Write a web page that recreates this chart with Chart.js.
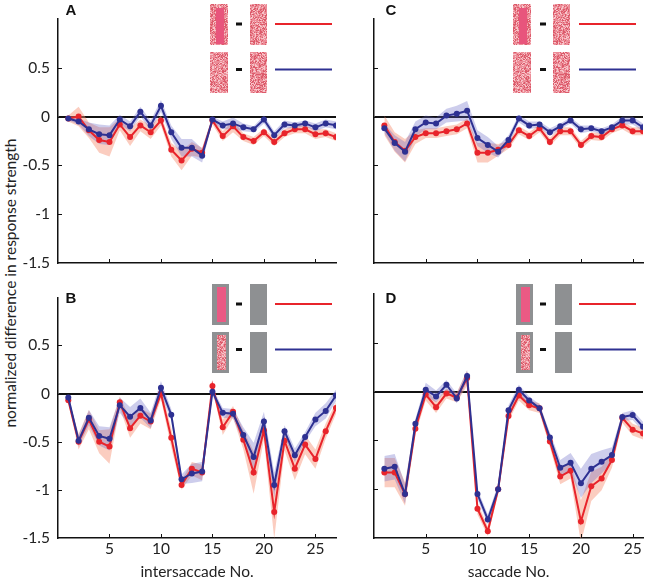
<!DOCTYPE html>
<html>
<head>
<meta charset="utf-8">
<script src="https://cdn.jsdelivr.net/npm/chart.js@4.4.0/dist/chart.umd.min.js"></script>
<style>
  body { margin: 0; background: #fff; width: 649px; height: 581px; position: relative; overflow: hidden; font-family: Lato, sans-serif; }
  .panel { position: absolute; }
  #ytitle { position: absolute; left: 10px; top: 283px; transform: translate(-50%, -50%) rotate(-90deg); white-space: nowrap; font-size: 15.5px; color: #222; }
</style>
</head>
<body>
<div id="ytitle">normalized difference in response strength</div>
<div class="panel" style="left:0;top:0;width:340px;height:290px"><canvas id="chartA"></canvas></div>
<div class="panel" style="left:340px;top:0;width:309px;height:290px"><canvas id="chartC"></canvas></div>
<div class="panel" style="left:0;top:280px;width:340px;height:301px"><canvas id="chartB"></canvas></div>
<div class="panel" style="left:340px;top:280px;width:309px;height:301px"><canvas id="chartD"></canvas></div>
<script>
// x positions
const intersaccadeNo = [1,2,3,4,5,6,7,8,9,10,11,12,13,14,15,16,17,18,19,20,21,22,23,24,25,26,27];
const saccadeNo = [1,2,3,4,5,6,7,8,9,10,11,12,13,14,15,16,17,18,19,20,21,22,23,24,25,26];
const xTicks = [5, 10, 15, 20, 25];

// panel A
const redA  = [-0.02,0.00,-0.14,-0.24,-0.26,-0.08,-0.21,-0.09,-0.16,-0.04,-0.34,-0.45,-0.33,-0.37,-0.04,-0.20,-0.10,-0.21,-0.25,-0.16,-0.26,-0.17,-0.13,-0.13,-0.18,-0.17,-0.21];
const redAErr = [0.03,0.10,0.08,0.13,0.15,0.06,0.09,0.06,0.07,0.05,0.07,0.10,0.07,0.05,0.04,0.05,0.06,0.04,0.04,0.04,0.04,0.04,0.04,0.04,0.05,0.04,0.04];
const blueA = [-0.02,-0.05,-0.13,-0.18,-0.19,-0.03,-0.10,0.05,-0.09,0.11,-0.16,-0.32,-0.32,-0.40,-0.03,-0.09,-0.07,-0.11,-0.13,-0.03,-0.19,-0.08,-0.09,-0.07,-0.11,-0.07,-0.09];
const blueAErr = [0.02,0.03,0.07,0.10,0.10,0.05,0.05,0.05,0.05,0.06,0.07,0.09,0.09,0.07,0.03,0.04,0.06,0.04,0.03,0.04,0.04,0.04,0.03,0.03,0.04,0.04,0.04];

// panel B
const redB  = [-0.07,-0.50,-0.27,-0.50,-0.55,-0.09,-0.36,-0.23,-0.29,0.00,-0.46,-0.95,-0.78,-0.82,0.08,-0.35,-0.19,-0.48,-0.82,-0.38,-1.23,-0.49,-0.78,-0.53,-0.68,-0.39,-0.15];
const redBErr = [0.03,0.08,0.10,0.12,0.18,0.06,0.10,0.08,0.08,0.06,0.10,0.05,0.07,0.08,0.04,0.08,0.06,0.10,0.22,0.10,0.28,0.10,0.12,0.10,0.10,0.08,0.06];
const blueB = [-0.04,-0.49,-0.25,-0.44,-0.47,-0.12,-0.24,-0.15,-0.28,0.06,-0.22,-0.89,-0.83,-0.81,0.02,-0.20,-0.21,-0.43,-0.66,-0.29,-0.95,-0.39,-0.64,-0.45,-0.27,-0.18,-0.02];
const blueBErr = [0.02,0.06,0.08,0.10,0.12,0.08,0.10,0.10,0.08,0.07,0.06,0.05,0.10,0.10,0.04,0.05,0.05,0.08,0.15,0.10,0.13,0.06,0.07,0.05,0.07,0.08,0.06];

// panel C
const redC  = [-0.09,-0.26,-0.35,-0.21,-0.17,-0.17,-0.15,-0.13,-0.07,-0.37,-0.37,-0.34,-0.29,-0.14,-0.20,-0.12,-0.26,-0.15,-0.15,-0.29,-0.20,-0.21,-0.13,-0.09,-0.15,-0.15];
const redCErr = [0.10,0.10,0.12,0.07,0.05,0.05,0.05,0.05,0.05,0.10,0.10,0.06,0.04,0.04,0.04,0.04,0.04,0.04,0.04,0.04,0.04,0.04,0.04,0.04,0.04,0.04];
const blueC = [-0.12,-0.27,-0.36,-0.13,-0.06,-0.07,0.01,0.03,0.06,-0.22,-0.29,-0.36,-0.24,-0.02,-0.09,-0.08,-0.16,-0.10,-0.04,-0.13,-0.12,-0.15,-0.11,-0.04,-0.04,-0.11];
const blueCErr = [0.05,0.08,0.10,0.08,0.07,0.06,0.07,0.08,0.10,0.08,0.08,0.06,0.05,0.04,0.04,0.03,0.04,0.03,0.03,0.04,0.03,0.03,0.03,0.04,0.04,0.04];

// panel D
const redD  = [-0.83,-0.83,-1.05,-0.38,-0.03,-0.16,-0.02,-0.06,0.14,-1.20,-1.43,-1.00,-0.25,-0.04,-0.14,-0.17,-0.51,-0.87,-0.81,-1.33,-0.97,-0.89,-0.70,-0.27,-0.39,-0.43];
const redDErr = [0.15,0.15,0.12,0.06,0.06,0.06,0.05,0.05,0.08,0.06,0.05,0.05,0.05,0.05,0.05,0.05,0.06,0.08,0.08,0.22,0.15,0.12,0.08,0.05,0.06,0.06];
const blueD = [-0.79,-0.77,-1.05,-0.33,0.02,-0.05,0.07,-0.07,0.16,-1.05,-1.31,-1.00,-0.19,0.02,-0.09,-0.17,-0.47,-0.78,-0.73,-0.94,-0.79,-0.72,-0.65,-0.26,-0.24,-0.36];
const blueDErr = [0.13,0.13,0.10,0.05,0.07,0.06,0.05,0.05,0.06,0.05,0.05,0.05,0.05,0.05,0.04,0.04,0.05,0.08,0.10,0.15,0.15,0.12,0.08,0.04,0.05,0.05];

const RED = '#e8242b';
const BLUE = '#2e3192';
const FONT = { family: 'Lato, sans-serif', size: 15.5 };

function noiseVal(i, j, seed) {
  const s = Math.sin(i * 12.9898 + j * 78.233 + seed * 37.719) * 43758.5453;
  return s - Math.floor(s);
}

// pink speckle texture for the stimulus thumbnails
function drawNoise(ctx, x, y, w, h, seed) {
  ctx.fillStyle = '#ee96a0';
  ctx.fillRect(x, y, w, h);
  for (let i = 0; i < w; i++) {
    for (let j = 0; j < h; j++) {
      const v = noiseVal(i, j, seed);
      if (v < 0.22) ctx.fillStyle = '#f7c4c9';
      else if (v < 0.72) ctx.fillStyle = '#ec8d98';
      else ctx.fillStyle = '#dc5b6b';
      ctx.fillRect(x + i, y + j, 1, 1);
    }
  }
}

// inset legend pictures
function drawInset(ctx, p) {
  const rows = [p.rowY, p.rowY + 48];
  const lineY = [p.rowY + 20, p.rowY + 65.5];
  rows.forEach((ry, r) => {
    const h = 41;
    if (p.kind === 'noise') {
      drawNoise(ctx, p.img1, ry, 18, h, r * 2 + 1);
      if (r === 0) {
        ctx.fillStyle = '#e8557c';
        ctx.fillRect(p.img1 + 6, ry + 4, 8, h - 5);
      }
      drawNoise(ctx, p.img2, ry, 17, h, r * 2 + 2);
    } else {
      ctx.fillStyle = '#8e9092';
      ctx.fillRect(p.img1, ry, 17, h);
      ctx.fillRect(p.img2, ry, 17, h);
      if (r === 0) {
        ctx.fillStyle = '#ea5a84';
        ctx.fillRect(p.img1 + 5, ry + 3, 9, h - 6);
      } else {
        drawNoise(ctx, p.img1 + 5, ry + 3, 9, h - 6, 7);
      }
    }
    ctx.fillStyle = '#111';
    ctx.fillRect(p.dash, lineY[r] - 1.5, 6, 3);
    ctx.strokeStyle = r === 0 ? RED : BLUE;
    ctx.lineWidth = 2;
    ctx.beginPath();
    ctx.moveTo(p.lineX0, lineY[r]);
    ctx.lineTo(p.lineX1, lineY[r]);
    ctx.stroke();
  });
}

const decoPlugin = {
  id: 'deco',
  afterDatasetsDraw(chart) {
    const ctx = chart.ctx;
    const a = chart.chartArea;
    const ys = chart.scales.y;
    const xs = chart.scales.x;
    ctx.save();
    ctx.strokeStyle = '#111';
    ctx.lineWidth = 1;
    [0.5, 0, -0.5, -1].forEach(v => {
      const py = Math.round(ys.getPixelForValue(v)) + 0.5;
      ctx.beginPath();
      ctx.moveTo(a.left, py);
      ctx.lineTo(a.left + 4, py);
      ctx.stroke();
    });
    xTicks.forEach(v => {
      const px = Math.round(xs.getPixelForValue(v)) + 0.5;
      ctx.beginPath();
      ctx.moveTo(px, a.bottom);
      ctx.lineTo(px, a.bottom - 4);
      ctx.stroke();
    });
    ctx.restore();
  },
  afterDraw(chart) {
    const p = chart.options.plugins.deco;
    const ctx = chart.ctx;
    ctx.save();
    ctx.translate(-p.L, -p.T);
    drawInset(ctx, p.inset);
    ctx.fillStyle = '#111';
    ctx.font = 'bold 15px "Liberation Sans", Arial, sans-serif';
    ctx.textAlign = 'center';
    ctx.textBaseline = 'middle';
    ctx.fillText(p.letter, p.letterX, p.letterY);
    ctx.restore();
  }
};

function makePanel(id, xs, red, redErr, blue, blueErr, p) {
  const pts = (ys) => ys.map((v, i) => ({ x: xs[i], y: v }));
  const band = (ys, es, sign) => ys.map((v, i) => ({ x: xs[i], y: v + sign * es[i] }));
  const bandStyle = { borderWidth: 0, pointRadius: 0, pointHoverRadius: 0 };
  new Chart(document.getElementById(id), {
    type: 'line',
    data: {
      datasets: [
        { data: band(red, redErr, 1), fill: '+1', backgroundColor: 'rgba(246,145,115,0.45)', order: 3, ...bandStyle },
        { data: band(red, redErr, -1), fill: false, order: 3, ...bandStyle },
        { data: band(blue, blueErr, 1), fill: '+1', backgroundColor: 'rgba(100,100,195,0.32)', order: 2, ...bandStyle },
        { data: band(blue, blueErr, -1), fill: false, order: 2, ...bandStyle },
        { data: pts(red), borderColor: RED, backgroundColor: RED, borderWidth: 2, pointRadius: 3, pointBorderWidth: 0, order: 1 },
        { data: pts(blue), borderColor: BLUE, backgroundColor: BLUE, borderWidth: 2, pointRadius: 3, pointBorderWidth: 0, order: 0 }
      ]
    },
    options: {
      responsive: true,
      maintainAspectRatio: false,
      animation: false,
      events: [],
      layout: { padding: { left: 0, top: p.padTop, right: p.padRight, bottom: 0 } },
      plugins: {
        legend: { display: false },
        tooltip: { enabled: false },
        deco: p
      },
      scales: {
        x: {
          type: 'linear',
          min: 0,
          max: xs.length,
          afterBuildTicks: s => { s.ticks = xTicks.map(v => ({ value: v })); },
          afterFit: s => { s.height = p.xHeight; },
          ticks: { display: p.showX, font: FONT, color: '#222', padding: 2, maxRotation: 0 },
          grid: { display: false, drawTicks: false },
          border: { display: true, color: '#111', width: 1.5 },
          title: { display: !!p.xTitle, text: p.xTitle || '', font: FONT, color: '#222', padding: 0 }
        },
        y: {
          min: -1.5,
          max: 1,
          afterBuildTicks: s => { s.ticks = [1, 0.5, 0, -0.5, -1, -1.5].map(v => ({ value: v })); },
          afterFit: s => { s.width = p.yWidth; },
          ticks: { display: p.showY, font: FONT, color: '#222', padding: 8, callback: v => v === 1 ? '' : String(v) },
          grid: {
            drawTicks: false,
            color: c => (c.tick && c.tick.value === 0) ? '#111' : 'rgba(0,0,0,0)',
            lineWidth: c => (c.tick && c.tick.value === 0) ? 2 : 1
          },
          border: { display: true, color: '#111', width: 1.5 }
        }
      }
    },
    plugins: [decoPlugin]
  });
}

makePanel('chartA', intersaccadeNo, redA, redAErr, blueA, blueAErr, {
  L: 0, T: 0, padTop: 19, padRight: 3, yWidth: 58, xHeight: 27, showX: false, showY: true,
  letter: 'A', letterX: 71, letterY: 11,
  inset: { kind: 'noise', rowY: 4, img1: 210, dash: 236, img2: 250, lineX0: 275, lineX1: 332 }
});
makePanel('chartC', saccadeNo, redC, redCErr, blueC, blueCErr, {
  L: 340, T: 0, padTop: 19, padRight: 6, yWidth: 34, xHeight: 27, showX: false, showY: false,
  letter: 'C', letterX: 391, letterY: 11,
  inset: { kind: 'noise', rowY: 4, img1: 513, dash: 540, img2: 553, lineX0: 579, lineX1: 636 }
});
makePanel('chartB', intersaccadeNo, redB, redBErr, blueB, blueBErr, {
  L: 0, T: 280, padTop: 14, padRight: 3, yWidth: 58, xHeight: 43, showX: true, showY: true, xTitle: 'intersaccade No.',
  letter: 'B', letterX: 71, letterY: 299,
  inset: { kind: 'gray', rowY: 284, img1: 212, dash: 236, img2: 250, lineX0: 275, lineX1: 332 }
});
makePanel('chartD', saccadeNo, redD, redDErr, blueD, blueDErr, {
  L: 340, T: 280, padTop: 14, padRight: 6, yWidth: 34, xHeight: 43, showX: true, showY: false, xTitle: 'saccade No.',
  letter: 'D', letterX: 391, letterY: 299,
  inset: { kind: 'gray', rowY: 284, img1: 516, dash: 540, img2: 555, lineX0: 579, lineX1: 636 }
});
</script>
</body>
</html>
